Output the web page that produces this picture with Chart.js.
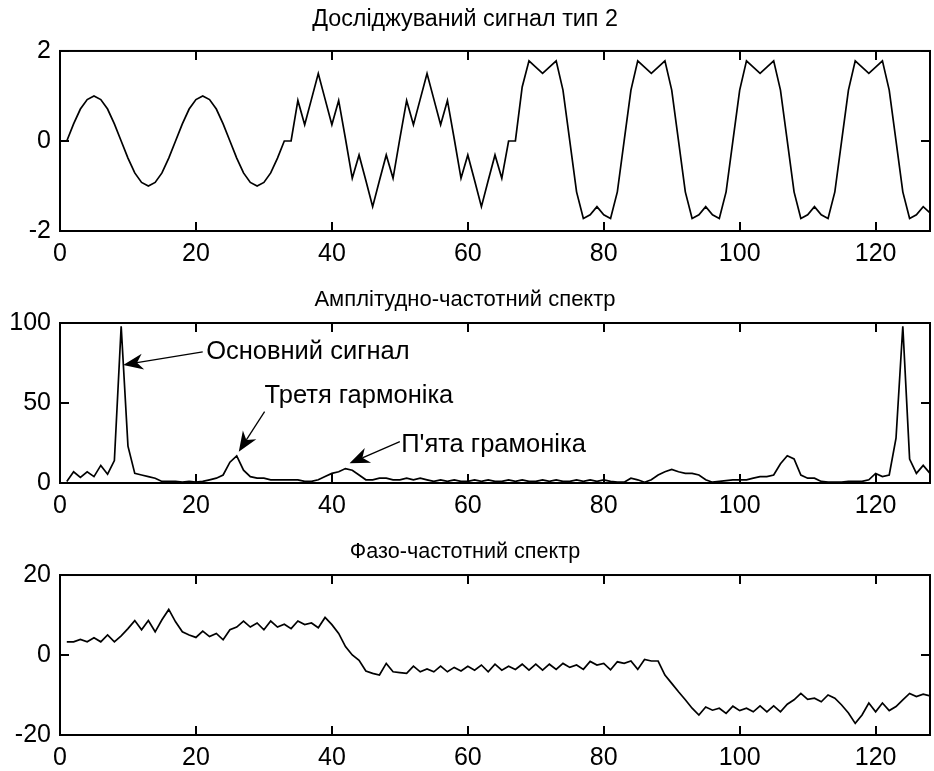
<!DOCTYPE html>
<html><head><meta charset="utf-8">
<script src="https://cdn.jsdelivr.net/npm/chart.js@4/dist/chart.umd.min.js"></script>
<style>
html,body{margin:0;padding:0;background:#fff;}
body{width:934px;height:771px;position:relative;overflow:hidden;}
canvas{position:absolute;left:0;}
</style></head><body>
<canvas id="c1" width="934" height="265" style="top:0px"></canvas>
<canvas id="c2" width="934" height="280" style="top:255px"></canvas>
<canvas id="c3" width="934" height="266" style="top:505px"></canvas>
<script>
// ---- data ----
const sampleIndex = Array.from({length: 128}, (_, i) => i + 1);

const signalValues = [
  0, 0.38, 0.71, 0.92, 1.0, 0.92, 0.71, 0.38, 0, -0.38, -0.71, -0.92, -1.0, -0.92, -0.71, -0.38,
  0, 0.38, 0.71, 0.92, 1.0, 0.92, 0.71, 0.38, 0, -0.38, -0.71, -0.92, -1.0, -0.92, -0.71, -0.38,
  0, 0, 0.9, 0.36, 0.93, 1.5, 0.93, 0.36, 0.9, 0.05, -0.83, -0.31, -0.88, -1.46, -0.88, -0.31,
  -0.83, 0.05, 0.9, 0.36, 0.93, 1.5, 0.93, 0.36, 0.9, 0.05, -0.83, -0.31, -0.88, -1.46, -0.88, -0.31,
  -0.83, 0, 0, 1.2, 1.78, 1.64, 1.5, 1.64, 1.78, 1.13, 0, -1.13, -1.72, -1.64, -1.46, -1.64,
  -1.72, -1.13, 0, 1.13, 1.78, 1.64, 1.5, 1.64, 1.78, 1.13, 0, -1.13, -1.72, -1.64, -1.46, -1.64,
  -1.72, -1.13, 0, 1.13, 1.78, 1.64, 1.5, 1.64, 1.78, 1.13, 0, -1.13, -1.72, -1.64, -1.46, -1.64,
  -1.72, -1.13, 0, 1.13, 1.78, 1.64, 1.5, 1.64, 1.78, 1.13, 0, -1.13, -1.72, -1.64, -1.46, -1.6
];

const amplitudeValues = [
  1, 7, 3.5, 7, 4, 11, 5.5, 14, 98, 23, 6, 5, 4, 3, 1, 1,
  1, 0.5, 1, 0.5, 1, 2, 3, 5, 13, 17, 8, 4, 3, 3, 2, 2,
  2, 2, 2, 1, 1, 2, 4, 6, 7, 9, 8, 5, 2, 2, 3, 3,
  2, 2, 3, 2, 3, 2, 1, 2, 1, 2, 1, 1, 2, 1, 2, 1,
  1, 2, 1, 2, 1, 1, 2, 1, 2, 1, 1, 2, 1, 2, 1, 2,
  1, 0.5, 0.5, 3, 2, 0.5, 2, 5, 7, 8.5, 7, 6, 6, 5, 2, 0.5,
  1, 1.5, 2, 2, 2, 3, 4, 4, 5, 12, 17, 15, 5, 3, 3, 1,
  0.5, 0.5, 0.5, 1, 1, 1, 2, 6, 4, 5, 28, 98, 15, 6, 11, 6
];

const phaseValues = [
  3.3, 3.3, 3.9, 3.3, 4.3, 3.3, 5, 3.3, 4.8, 6.6, 8.6, 6.3, 8.6, 5.8, 8.8, 11.4,
  8.3, 5.8, 5, 4.4, 6, 4.6, 5.4, 3.8, 6.3, 7, 8.5, 7, 8, 6.3, 8.5, 7,
  7.7, 6.6, 8.5, 7.6, 8, 6.8, 9.4, 7.6, 5.4, 2.1, 0, -1.3, -4, -4.6, -5, -2.1,
  -4.2, -4.4, -4.6, -2.8, -4.2, -3.5, -4.2, -2.8, -4.2, -3.1, -4, -2.8, -3.8, -2.5, -4.2, -2.3,
  -3.8, -2.8, -3.6, -2.3, -3.8, -2.3, -3.8, -2.3, -3.6, -2.1, -3.1, -2.5, -3.6, -1.6, -2.5, -2.1,
  -3.7, -1.7, -2.1, -1.5, -3.6, -1.1, -1.5, -1.5, -5, -7.1, -9.2, -11.2, -13.3, -15, -13, -13.8,
  -13.3, -14.6, -12.8, -13.9, -13.3, -14.2, -12.7, -14.2, -12.7, -14.2, -12.3, -11.2, -9.6, -11.1, -10.8, -11.7,
  -10, -10.8, -12.5, -14.5, -17.1, -15, -12, -14.2, -12, -13.9, -12.9, -11.2, -9.6, -10.4, -9.8, -10.2
];

const xTickValues = [0, 20, 40, 60, 80, 100, 120];
const signalYTicks = [-2, 0, 2];
const amplitudeYTicks = [0, 50, 100];
const phaseYTicks = [-20, 0, 20];

const chartTitles = ['Досліджуваний сигнал тип 2', 'Амплітудно-частотний спектр', 'Фазо-частотний спектр'];

// annotations of the spectrum (data coordinates)
const annotationTexts = ['Основний сигнал', 'Третя гармоніка', "П'ята грамоніка"];
const annotationTextAt = [[21.5, 82], [30.1, 54.4], [50.2, 23.8]];
const arrowFrom = [[21.0, 82], [30.1, 44.6], [50.0, 25.8]];
const arrowTo = [[9.3, 73.8], [26.3, 19.6], [42.6, 12.3]];

// ---- rendering ----
const FONT = '"Liberation Sans", Arial, sans-serif';

const boxPlugin = {
  id: 'matlabBox',
  afterDatasetsDraw(chart) {
    const {ctx, chartArea: a, scales} = chart;
    const x = scales.x, y = scales.y;
    ctx.save();
    ctx.strokeStyle = '#000';
    ctx.lineWidth = 2;
    ctx.strokeRect(a.left, a.top, a.right - a.left, a.bottom - a.top);
    const L = 9;
    ctx.beginPath();
    x.ticks.forEach(t => {
      const px = Math.round(x.getPixelForValue(t.value));
      ctx.moveTo(px, a.bottom); ctx.lineTo(px, a.bottom - L);
      ctx.moveTo(px, a.top); ctx.lineTo(px, a.top + L);
    });
    y.ticks.forEach(t => {
      const py = Math.round(y.getPixelForValue(t.value));
      ctx.moveTo(a.left, py); ctx.lineTo(a.left + L, py);
      ctx.moveTo(a.right, py); ctx.lineTo(a.right - L, py);
    });
    ctx.stroke();
    ctx.restore();
  }
};

const arrowPlugin = {
  id: 'arrowNotes',
  afterDatasetsDraw(chart, args, opts) {
    if (!opts || !opts.texts) return;
    const {ctx, scales: {x, y}} = chart;
    ctx.save();
    ctx.strokeStyle = '#000';
    ctx.fillStyle = '#000';
    ctx.lineWidth = 1.3;
    ctx.font = '25.5px ' + FONT;
    ctx.textBaseline = 'middle';
    ctx.textAlign = 'left';
    opts.texts.forEach((txt, i) => {
      const x0 = x.getPixelForValue(opts.from[i][0]), y0 = y.getPixelForValue(opts.from[i][1]);
      const x1 = x.getPixelForValue(opts.to[i][0]), y1 = y.getPixelForValue(opts.to[i][1]);
      const ang = Math.atan2(y1 - y0, x1 - x0);
      const hl = 20, hw = 8, notch = 6;
      const bx = x1 - hl * Math.cos(ang), by = y1 - hl * Math.sin(ang);
      const nx = x1 - (hl - notch) * Math.cos(ang), ny = y1 - (hl - notch) * Math.sin(ang);
      ctx.beginPath();
      ctx.moveTo(x0, y0);
      ctx.lineTo(nx, ny);
      ctx.stroke();
      ctx.beginPath();
      ctx.moveTo(x1, y1);
      ctx.lineTo(bx + hw * Math.sin(ang), by - hw * Math.cos(ang));
      ctx.lineTo(nx, ny);
      ctx.lineTo(bx - hw * Math.sin(ang), by + hw * Math.cos(ang));
      ctx.closePath();
      ctx.fill();
      const tx = x.getPixelForValue(opts.textAt[i][0]), ty = y.getPixelForValue(opts.textAt[i][1]);
      ctx.fillText(txt, tx, ty);
    });
    ctx.restore();
  }
};

function makeChart(id, values, yTicks, title, titleSize, titlePad, xAxisH, notes) {
  return new Chart(document.getElementById(id), {
    type: 'line',
    data: {
      datasets: [{
        data: values.map((v, i) => ({x: sampleIndex[i], y: v})),
        borderColor: '#000', borderWidth: 1.7, pointRadius: 0, tension: 0, fill: false
      }]
    },
    options: {
      responsive: false, animation: false, devicePixelRatio: 1,
      layout: {padding: {left: 0, right: 4, top: 0, bottom: 0}},
      plugins: {
        legend: {display: false}, tooltip: {enabled: false},
        title: {display: true, text: title, color: '#000',
          font: {family: FONT, size: titleSize, weight: 'normal', lineHeight: 1.2}, padding: titlePad},
        arrowNotes: notes || {}
      },
      scales: {
        x: {
          type: 'linear', min: 0, max: 128,
          afterBuildTicks: s => { s.ticks = xTickValues.map(v => ({value: v})); },
          afterFit: s => { s.height = xAxisH; },
          grid: {display: false, drawTicks: false}, border: {display: false},
          ticks: {color: '#000', font: {family: FONT, size: 25}, padding: 8, maxRotation: 0, autoSkip: false}
        },
        y: {
          type: 'linear', min: yTicks[0], max: yTicks[yTicks.length - 1],
          afterBuildTicks: s => { s.ticks = yTicks.map(v => ({value: v})); },
          afterFit: s => { s.width = 60; },
          grid: {display: false, drawTicks: false}, border: {display: false},
          ticks: {color: '#000', font: {family: FONT, size: 25}, padding: 9, autoSkip: false}
        }
      }
    },
    plugins: [boxPlugin, arrowPlugin]
  });
}

makeChart('c1', signalValues, signalYTicks, chartTitles[0], 23.3, {top: 5.5, bottom: 17.5}, 34);
makeChart('c2', amplitudeValues, amplitudeYTicks, chartTitles[1], 22, {top: 32, bottom: 9.6}, 52,
  {texts: annotationTexts, textAt: annotationTextAt, from: arrowFrom, to: arrowTo});
makeChart('c3', phaseValues, phaseYTicks, chartTitles[2], 21.6, {top: 34.5, bottom: 9.6}, 36);
</script>
</body></html>
